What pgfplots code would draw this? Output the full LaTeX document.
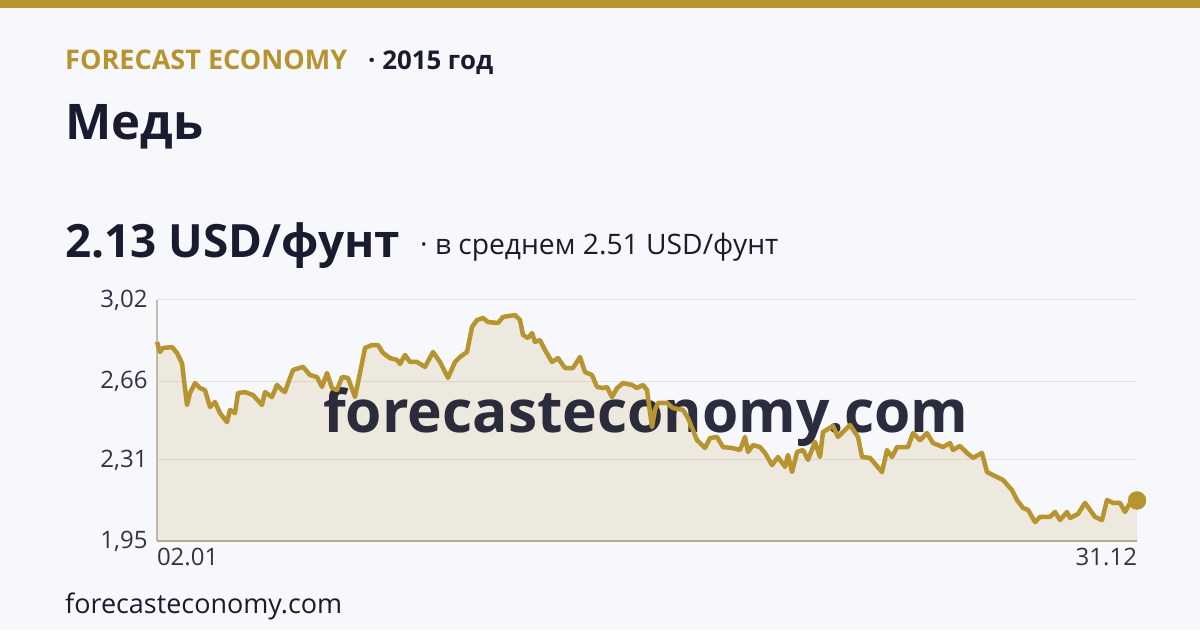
\documentclass[border=0pt]{standalone}
\usepackage{pgfplots}
\pgfplotsset{compat=1.18}
\usepackage{fontspec}
\setmainfont{Open Sans}
\definecolor{gold}{HTML}{B7942F}
\definecolor{dark}{HTML}{1B1B2F}
\definecolor{fillc}{HTML}{EFEBDF}
\definecolor{bgc}{HTML}{F7F8FC}
\definecolor{gridc}{HTML}{E2E2E8}
\definecolor{axc}{HTML}{B3ABA0}
\pgfplotstableread{
x y
0 2.834
3 2.789
6 2.807
15 2.811
20 2.785
25 2.740
30 2.554
33 2.607
38 2.651
43 2.629
48 2.620
53 2.545
58 2.567
63 2.518
70 2.478
73 2.532
78 2.518
81 2.607
88 2.611
96 2.598
105 2.554
108 2.611
115 2.589
120 2.643
125 2.620
128 2.611
131 2.651
136 2.709
146 2.723
153 2.687
160 2.678
165 2.634
170 2.696
175 2.629
180 2.620
185 2.678
191 2.674
198 2.589
203 2.696
208 2.807
215 2.820
221 2.820
226 2.785
233 2.762
240 2.754
243 2.736
248 2.776
253 2.745
260 2.745
268 2.723
276 2.789
283 2.745
291 2.674
298 2.745
303 2.767
310 2.789
315 2.900
320 2.931
326 2.940
331 2.922
341 2.918
346 2.945
358 2.953
363 2.931
366 2.865
371 2.851
375 2.873
378 2.834
383 2.842
388 2.798
395 2.745
401 2.762
408 2.718
416 2.718
423 2.767
428 2.700
435 2.687
440 2.634
446 2.629
450 2.634
455 2.589
460 2.629
466 2.651
475 2.643
480 2.629
486 2.643
490 2.620
495 2.456
498 2.532
501 2.563
510 2.563
516 2.540
526 2.532
531 2.496
540 2.398
548 2.363
553 2.407
560 2.412
566 2.367
575 2.363
583 2.354
588 2.412
591 2.345
596 2.376
603 2.367
608 2.341
615 2.287
621 2.323
628 2.279
631 2.332
635 2.256
640 2.345
646 2.354
651 2.310
658 2.390
663 2.323
666 2.434
676 2.461
681 2.412
693 2.465
701 2.412
705 2.323
713 2.319
725 2.256
730 2.354
735 2.323
740 2.367
751 2.367
756 2.429
763 2.398
770 2.429
776 2.385
786 2.367
793 2.385
796 2.354
803 2.372
810 2.341
816 2.319
825 2.341
830 2.256
840 2.234
846 2.221
855 2.176
860 2.132
866 2.097
871 2.088
878 2.034
883 2.057
893 2.057
898 2.079
903 2.043
910 2.079
913 2.052
921 2.070
928 2.119
933 2.088
938 2.057
945 2.043
950 2.132
956 2.119
963 2.119
968 2.079
973 2.119
980 2.130
}\datatable
\pgfplotstableread{
x y
980 2.130
}\lastpt
\begin{document}
\begin{tikzpicture}[x=1pt,y=1pt]
\fill[bgc] (0,0) rectangle (1200,630);
\fill[gold] (0,622) rectangle (1200,630);
\node[anchor=base west,inner sep=0,text=gold] at (65,560) {\resizebox{282pt}{!}{\bfseries FORECAST ECONOMY}};
\node[anchor=base west,inner sep=0,text=dark] at (368,560) {\resizebox{125pt}{!}{\bfseries · 2015 год}};
\node[anchor=base west,inner sep=0,text=dark] at (65,490) {\resizebox{138pt}{!}{\bfseries Медь}};
\node[anchor=base west,inner sep=0,text=dark] at (65,372) {\resizebox{335pt}{!}{\bfseries 2.13 USD/фунт}};
\node[anchor=base west,inner sep=0,text=dark] at (420,375) {\resizebox{358pt}{!}{· в среднем 2.51 USD/фунт}};
\node[anchor=base west,inner sep=0,text=dark] at (65,17) {\resizebox{277pt}{!}{forecasteconomy.com}};
\begin{axis}[
  at={(157pt,89pt)}, anchor=south west,
  width=980pt, height=241pt, scale only axis,
  xmin=0, xmax=980, ymin=1.95, ymax=3.02,
  clip=false,
  axis x line*=bottom, axis y line*=left,
  x axis line style={draw=axc, line width=2pt, -},
  y axis line style={draw=axc!80, line width=2pt, -},
  major tick length=0pt,
  ytick={1.95,2.31,2.66,3.02},
  yticklabels={{1,95},{2,31},{2,66},{3,02}},
  yticklabel style={font=\fontsize{24}{28}\selectfont, text=dark!90, xshift=-6pt},
  xtick={0,980},
  xticklabels={\rlap{02.01},\llap{31.12}},
  xticklabel style={font=\fontsize{24}{28}\selectfont, text=dark!90, yshift=-4pt},
  ymajorgrids, grid style={draw=gridc, line width=1pt},
]
\addplot[draw=none, fill=gold, fill opacity=0.14] table[x=x,y=y] {\datatable} \closedcycle;
\node[anchor=base west, inner sep=0, text=dark, opacity=0.92] at (axis cs:166,2.43) {\resizebox{645pt}{!}{\bfseries forecasteconomy.com}};
\addplot[color=gold, line width=4.5pt, line join=round] table[x=x,y=y] {\datatable};
\addplot[only marks, mark=*, mark size=9pt, color=gold] table[x=x,y=y] {\lastpt};
\end{axis}
\end{tikzpicture}
\end{document}
